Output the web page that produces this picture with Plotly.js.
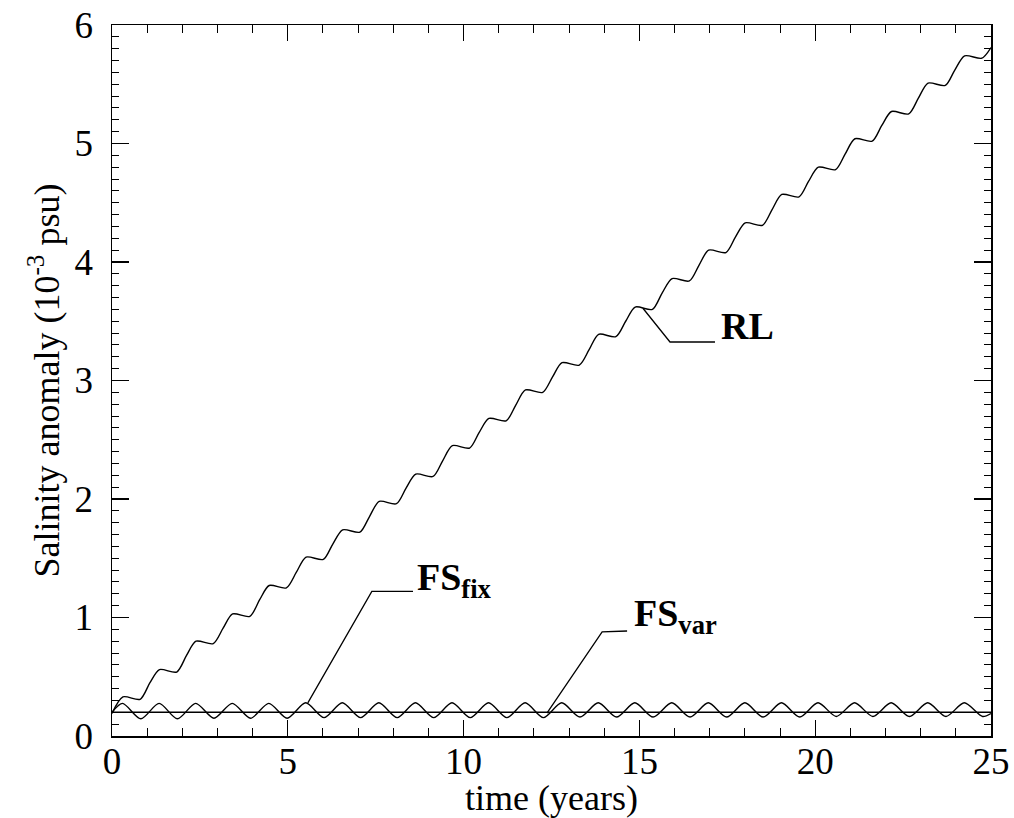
<!DOCTYPE html>
<html>
<head>
<meta charset="utf-8">
<script src="https://cdn.plot.ly/plotly-3.0.1.min.js"></script>
<style>html,body{margin:0;padding:0;background:#fff;}#chart{width:1014px;height:818px;}</style>
</head>
<body>
<div id="chart"></div>
<script>
// RL series (time in years, salinity anomaly in 10^-3 psu)
const rlTime = [0, 0.31, 0.80, 1.08, 1.35, 1.84, 2.12, 2.39, 2.88, 3.16, 3.43, 3.92, 4.20, 4.47, 4.96, 5.24, 5.52, 6.01, 6.28, 6.56, 7.05, 7.32, 7.60, 8.09, 8.36, 8.64, 9.13, 9.40, 9.68, 10.17, 10.44, 10.72, 11.21, 11.48, 11.76, 12.25, 12.53, 12.80, 13.29, 13.57, 13.84, 14.33, 14.61, 14.88, 15.37, 15.65, 15.93, 16.42, 16.69, 16.97, 17.46, 17.73, 18.01, 18.50, 18.77, 19.05, 19.54, 19.81, 20.09, 20.58, 20.85, 21.13, 21.62, 21.89, 22.17, 22.66, 22.93, 23.21, 23.70, 23.97, 24.25, 24.74, 25.00];
const rlSal = [0.19, 0.33, 0.31, 0.45, 0.56, 0.54, 0.68, 0.80, 0.78, 0.91, 1.03, 1.01, 1.15, 1.27, 1.25, 1.38, 1.51, 1.49, 1.62, 1.74, 1.72, 1.85, 1.98, 1.96, 2.09, 2.21, 2.19, 2.32, 2.45, 2.43, 2.56, 2.68, 2.66, 2.79, 2.92, 2.90, 3.03, 3.15, 3.13, 3.26, 3.39, 3.37, 3.50, 3.62, 3.60, 3.74, 3.86, 3.84, 3.97, 4.10, 4.08, 4.21, 4.33, 4.31, 4.44, 4.57, 4.55, 4.68, 4.80, 4.78, 4.91, 5.04, 5.02, 5.15, 5.27, 5.25, 5.38, 5.51, 5.49, 5.62, 5.74, 5.72, 5.81];

// FS_var series (oscillating)
const fsVarTime = [0, 0.30, 0.82, 1.34, 1.86, 2.38, 2.90, 3.42, 3.94, 4.46, 4.98, 5.51, 6.03, 6.55, 7.07, 7.59, 8.11, 8.63, 9.15, 9.67, 10.19, 10.71, 11.23, 11.75, 12.27, 12.79, 13.31, 13.83, 14.35, 14.87, 15.39, 15.92, 16.44, 16.96, 17.48, 18.00, 18.52, 19.04, 19.56, 20.08, 20.60, 21.12, 21.64, 22.16, 22.68, 23.20, 23.72, 24.24, 24.76, 25.00];
const fsVarSal = [0.20, 0.275, 0.145, 0.275, 0.145, 0.275, 0.15, 0.275, 0.15, 0.275, 0.15, 0.28, 0.155, 0.28, 0.155, 0.28, 0.155, 0.28, 0.155, 0.28, 0.155, 0.28, 0.155, 0.28, 0.155, 0.28, 0.16, 0.28, 0.16, 0.28, 0.16, 0.28, 0.16, 0.28, 0.16, 0.28, 0.16, 0.28, 0.16, 0.28, 0.165, 0.28, 0.165, 0.28, 0.165, 0.28, 0.165, 0.28, 0.165, 0.19];

// FS_fix series (constant)
const fsFixTime = [0, 25];
const fsFixSal = [0.20, 0.20];

// Axis ticks
const xTicks = [0, 5, 10, 15, 20, 25];
const yTicks = [0, 1, 2, 3, 4, 5, 6];

const serif = "Liberation Serif, Times New Roman, serif";
const lineStyle = {color: "#000", width: 1.4, shape: "spline", smoothing: 0.8};

const traces = [
  {x: rlTime, y: rlSal, mode: "lines", name: "RL", line: lineStyle},
  {x: fsVarTime, y: fsVarSal, mode: "lines", name: "FS var", line: lineStyle},
  {x: fsFixTime, y: fsFixSal, mode: "lines", name: "FS fix", line: {color: "#000", width: 1.4}}
];

const axisCommon = {
  showline: true, linecolor: "#000", linewidth: 1.5, mirror: "ticks",
  ticks: "inside", tickcolor: "#000", tickwidth: 1.2,
  showgrid: false, zeroline: false,
  tickfont: {family: serif, size: 37, color: "#000"}
};

const layout = {
  width: 1014, height: 818,
  margin: {l: 112, r: 23, t: 25, b: 82},
  paper_bgcolor: "#fff", plot_bgcolor: "#fff",
  showlegend: false,
  font: {family: serif, color: "#000"},
  xaxis: Object.assign({}, axisCommon, {
    range: [0, 25], tickvals: xTicks, ticklen: 16,
    minor: {dtick: 1, ticks: "inside", ticklen: 8, tickcolor: "#000", tickwidth: 1},
    ticklabelstandoff: -8,
    title: {text: "time (years)", font: {family: serif, size: 36, color: "#000"}, standoff: 0}
  }),
  yaxis: Object.assign({}, axisCommon, {
    range: [0, 6], tickvals: yTicks, ticklen: 17,
    minor: {dtick: 0.1, ticks: "inside", ticklen: 7, tickcolor: "#000", tickwidth: 1},
    ticklabelstandoff: 10,
    title: {text: "Salinity anomaly (10<sup>-3</sup> psu)", font: {family: serif, size: 36, color: "#000"}, standoff: 4}
  }),
  shapes: [
    {type: "path", xref: "x", yref: "y", path: "M 15.1,3.61 L 15.87,3.325 L 17.15,3.325", line: {color: "#000", width: 1.3}},
    {type: "path", xref: "x", yref: "y", path: "M 5.57,0.28 L 7.39,1.22 L 8.56,1.22", line: {color: "#000", width: 1.3}},
    {type: "path", xref: "x", yref: "y", path: "M 12.37,0.194 L 13.94,0.878 L 14.65,0.886", line: {color: "#000", width: 1.3}}
  ],
  annotations: [
    {x: 17.25, y: 3.46, xref: "x", yref: "y", text: "<b>RL</b>", showarrow: false, xanchor: "left", yanchor: "middle", font: {family: serif, size: 38, color: "#000"}},
    {x: 8.62, y: 1.32, xref: "x", yref: "y", text: "<b>FS<sub>fix</sub></b>", showarrow: false, xanchor: "left", yanchor: "middle", font: {family: serif, size: 38, color: "#000"}},
    {x: 14.78, y: 1.01, xref: "x", yref: "y", text: "<b>FS<sub>var</sub></b>", showarrow: false, xanchor: "left", yanchor: "middle", font: {family: serif, size: 38, color: "#000"}}
  ]
};

Plotly.newPlot("chart", traces, layout, {displayModeBar: false, staticPlot: true});
</script>
</body>
</html>
